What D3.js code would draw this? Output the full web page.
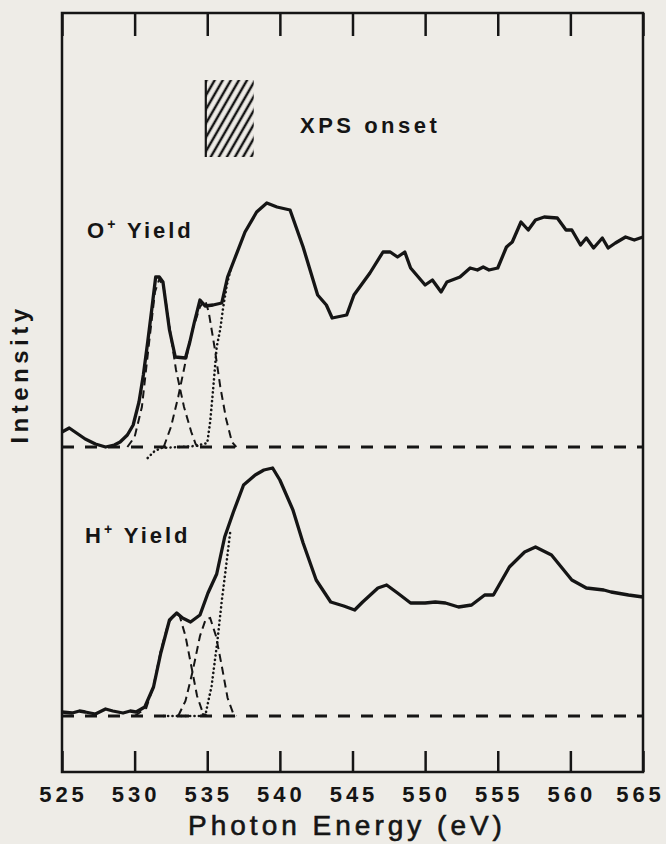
<!DOCTYPE html>
<html>
<head>
<meta charset="utf-8">
<script src="https://cdn.jsdelivr.net/npm/d3@7"></script>
<style>
  body { margin: 0; background: #eeece7; }
  svg text { font-family: "Liberation Sans", Arial, sans-serif; fill: #151515; }
</style>
</head>
<body>
<div id="chart"></div>
<script>
// photon energy ticks (eV)
const energyTicks = [525, 530, 535, 540, 545, 550, 555, 560, 565];

// [energy eV, intensity a.u.]
const oYield = [[525.0,15],[525.5,19],[526.0,14],[526.6,8],[527.3,3],[528.0,0],[528.6,2],[529.0,5],[529.5,12],[529.9,22],[530.3,45],[530.6,72],[530.9,105],[531.2,140],[531.45,170],[531.7,170],[531.95,165],[532.4,117],[532.8,90],[533.5,89],[533.8,105],[534.1,124],[534.5,147],[534.85,141],[535.4,142],[536.0,144],[536.4,170],[536.8,185],[537.6,215],[538.4,235],[539.1,244],[539.8,240],[540.7,237],[541.6,200],[542.6,152],[543.2,142],[543.6,129],[544.6,132],[545.1,152],[546.2,174],[547.1,195],[547.6,195],[548.1,190],[548.6,195],[549.0,179],[550.0,162],[550.5,167],[551.1,155],[551.5,165],[552.4,170],[553.1,179],[553.6,177],[554.0,180],[554.4,177],[555.0,179],[555.6,200],[556.0,205],[556.6,225],[557.1,217],[557.6,227],[558.2,230],[559.1,229],[559.7,217],[560.1,217],[560.7,202],[561.1,209],[561.6,199],[562.2,209],[562.6,199],[563.1,204],[563.8,210],[564.4,207],[565.0,210]];
const oPeak1 = [[529.5,0],[530.0,10],[530.5,40],[531.0,105],[531.4,155],[531.7,168],[532.0,160],[532.4,120],[532.85,77],[533.4,40],[533.9,15],[534.2,3],[534.4,0]];
const oPeak2 = [[532.0,0],[532.5,20],[533.0,50],[533.5,85],[534.0,118],[534.5,140],[534.85,147],[535.1,135],[535.5,100],[535.9,60],[536.3,28],[536.7,5],[537.0,0]];
const oEdge = [[530.9,-11],[531.3,-5],[531.8,-1],[533.0,0],[534.2,1],[535.0,4],[535.2,25],[535.4,57],[535.65,100],[535.9,118],[536.1,140],[536.35,162],[536.65,180]];

const hYield = [[525.0,4],[525.7,3],[526.2,5],[526.6,4],[527.3,2],[528.0,7],[528.5,5],[529.2,3],[529.7,5],[530.1,4],[530.7,9],[531.3,29],[531.8,63],[532.4,96],[532.9,103],[533.3,98],[533.85,94],[534.5,101],[535.05,123],[535.65,142],[536.2,179],[536.8,204],[537.5,231],[538.3,241],[538.9,246],[539.5,248],[540.0,236],[540.9,206],[541.6,173],[542.5,136],[543.5,114],[544.4,110],[545.15,106],[545.7,114],[546.75,128],[547.35,131],[548.1,123],[549.0,113],[550.0,113],[550.7,114],[551.4,113],[552.3,109],[553.2,111],[554.1,121],[554.7,121],[555.8,149],[556.85,164],[557.6,169],[558.7,161],[560.1,136],[561.1,128],[562.3,126],[562.8,124],[564.0,121],[565.0,119]];
const hPeak1 = [[530.0,0],[530.8,8],[531.3,30],[531.8,65],[532.3,92],[532.8,103],[533.1,100],[533.5,80],[533.9,50],[534.3,20],[534.7,3],[535.0,0]];
const hPeak2 = [[533.0,0],[533.5,15],[534.0,45],[534.5,80],[534.9,97],[535.2,98],[535.6,80],[536.0,50],[536.4,18],[536.8,2],[537.0,0]];
const hEdge = [[532.0,0],[534.5,0],[534.9,3],[535.3,30],[535.7,75],[536.0,115],[536.3,150],[536.6,186]];

// XPS onset band (eV)
const xpsOnset = [534.9, 538.2];

const W = 666, H = 844;
const frame = { left: 62, right: 643, top: 13, bottom: 772 };
const ink = "#151515";

const svg = d3.select("#chart").append("svg")
    .attr("width", W)
    .attr("height", H);

svg.append("rect").attr("width", W).attr("height", H).attr("fill", "#eeece7");

const x = d3.scaleLinear().domain([525, 565]).range([frame.left, frame.right]);
const yO = d3.scaleLinear().domain([0, 250]).range([447, 197]);
const yH = d3.scaleLinear().domain([0, 250]).range([716, 466]);

// hatch pattern for the XPS onset box
svg.append("defs").append("pattern")
    .attr("id", "hatch")
    .attr("patternUnits", "userSpaceOnUse")
    .attr("width", 7).attr("height", 7)
    .attr("patternTransform", "rotate(30)")
  .append("line")
    .attr("x1", 2).attr("y1", 0).attr("x2", 2).attr("y2", 7)
    .attr("stroke", ink).attr("stroke-width", 2.5);

// axes
const bottomAxis = svg.append("g")
    .attr("transform", `translate(0,${frame.bottom})`)
    .call(d3.axisBottom(x).tickValues(energyTicks).tickSize(-21).tickPadding(14).tickFormat(d3.format("d")));
const topAxis = svg.append("g")
    .attr("transform", `translate(0,${frame.top})`)
    .call(d3.axisTop(x).tickValues(energyTicks).tickSize(-23).tickFormat(""));
[bottomAxis, topAxis].forEach(g => {
    g.select(".domain").remove();
    g.selectAll(".tick line").attr("stroke", ink).attr("stroke-width", 2.5);
});
bottomAxis.selectAll(".tick text")
    .attr("fill", ink)
    .style("font-size", "22px")
    .style("font-weight", "bold")
    .style("letter-spacing", "4px")
    .attr("dx", d => d === 565 ? "-3px" : "1px");

svg.append("rect")
    .attr("x", frame.left).attr("y", frame.top)
    .attr("width", frame.right - frame.left).attr("height", frame.bottom - frame.top)
    .attr("fill", "none").attr("stroke", ink).attr("stroke-width", 2.5);

// XPS onset box
svg.append("rect")
    .attr("x", x(xpsOnset[0])).attr("y", 80)
    .attr("width", x(xpsOnset[1]) - x(xpsOnset[0])).attr("height", 77)
    .attr("fill", "url(#hatch)");
svg.append("line")
    .attr("x1", x(xpsOnset[0])).attr("x2", x(xpsOnset[0]))
    .attr("y1", 80).attr("y2", 157)
    .attr("stroke", ink).attr("stroke-width", 2.2);

// spectra
function drawPanel(y, data, peaks, edge) {
    const line = d3.line().x(d => x(d[0])).y(d => y(d[1]));
    svg.append("line")
        .attr("x1", x(525)).attr("x2", x(565))
        .attr("y1", y(0)).attr("y2", y(0))
        .attr("stroke", ink).attr("stroke-width", 3)
        .attr("stroke-dasharray", "12 11");
    peaks.forEach(p => {
        svg.append("path").datum(p)
            .attr("d", line)
            .attr("fill", "none").attr("stroke", ink)
            .attr("stroke-width", 2).attr("stroke-dasharray", "8 5");
    });
    svg.append("path").datum(edge)
        .attr("d", line)
        .attr("fill", "none").attr("stroke", ink)
        .attr("stroke-width", 2.6).attr("stroke-linecap", "round")
        .attr("stroke-dasharray", "0.1 4.3");
    svg.append("path").datum(data)
        .attr("d", line)
        .attr("fill", "none").attr("stroke", ink)
        .attr("stroke-width", 3.3).attr("stroke-linejoin", "round");
}
drawPanel(yO, oYield, [oPeak1, oPeak2], oEdge);
drawPanel(yH, hYield, [hPeak1, hPeak2], hEdge);

// labels
function yieldLabel(ion, xPos, yPos) {
    const t = svg.append("text")
        .attr("x", xPos).attr("y", yPos)
        .style("font-size", "22px").style("font-weight", "bold")
        .style("letter-spacing", "3px");
    t.append("tspan").text(ion);
    t.append("tspan").attr("dy", -9).style("font-size", "14px").text("+");
    t.append("tspan").attr("dy", 9).text(" Yield");
}
yieldLabel("O", 87, 238);
yieldLabel("H", 85, 543);

svg.append("text")
    .attr("x", 300).attr("y", 133)
    .style("font-size", "22px").style("font-weight", "bold")
    .style("letter-spacing", "3.5px")
    .text("XPS onset");

svg.append("text")
    .attr("transform", "translate(28,374) rotate(-90)")
    .attr("text-anchor", "middle")
    .style("font-size", "24px").style("font-weight", "bold")
    .style("letter-spacing", "4.5px")
    .text("Intensity");

svg.append("text")
    .attr("x", 347).attr("y", 835)
    .attr("text-anchor", "middle")
    .style("font-size", "28px")
    .style("letter-spacing", "4px")
    .attr("stroke", ink).attr("stroke-width", 0.6)
    .text("Photon Energy (eV)");
</script>
</body>
</html>
